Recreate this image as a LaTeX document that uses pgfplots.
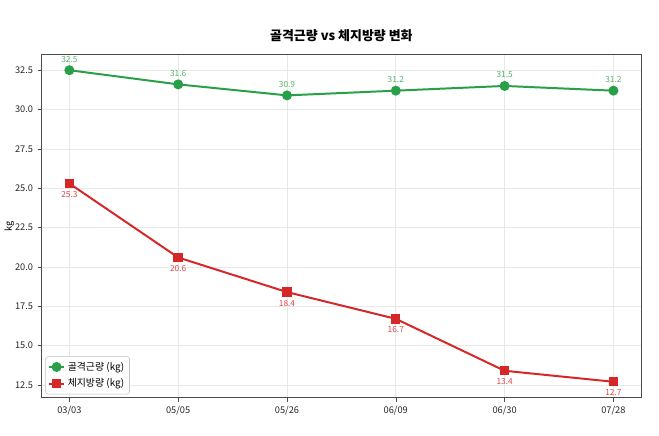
\documentclass[border=0pt]{standalone}
\usepackage{pgfplots}
\pgfplotsset{compat=1.18}
\usepackage{fontspec}
\setmainfont{Noto Sans CJK KR}
\definecolor{cg}{RGB}{40,160,72}
\definecolor{cr}{RGB}{214,39,40}
\definecolor{gridc}{RGB}{232,232,232}
\begin{document}
\begin{tikzpicture}
\begin{axis}[name=ax, scale only axis, width=454pt, height=260pt,
  xmin=-0.255, xmax=5.255, ymin=11.68, ymax=33.5,
  xtick={0,1,2,3,4,5}, xticklabels={03/03,05/05,05/26,06/09,06/30,07/28},
  ytick={12.5,15,17.5,20,22.5,25,27.5,30,32.5},
  yticklabel style={/pgf/number format/.cd,fixed,fixed zerofill,precision=1},
  /pgf/number format/assume math mode=true,
  tick label style={font=\fontsize{7}{8}\selectfont, text=black!85},
  grid=major, grid style={gridc, line width=0.5pt},
  axis line style={black!70, line width=0.8pt},
  tick style={black!70}, tick align=outside, major tick length=3pt,
  xtick pos=bottom, ytick pos=left,
  title={\bfseries 골격근량 vs 체지방량 변화},
  title style={font=\fontsize{9.8}{11}\selectfont, at={(axis description cs:0.5,1)}, anchor=center, yshift=8pt},
  ylabel={kg}, ylabel style={font=\fontsize{7}{8}\selectfont, at={(axis description cs:-0.054,0.5)}, anchor=center},
  legend style={at={(axis description cs:0.006,0.01)}, anchor=south west, font=\fontsize{7.5}{9}\selectfont, draw=black!25, rounded corners=2pt, inner sep=2pt, row sep=1pt},
  legend image code/.code={\draw[mark repeat=2,mark phase=2] plot coordinates {(0cm,0cm)(0.2cm,0cm)(0.4cm,0cm)};},
  legend cell align=left,
  nodes near coords, nodes near coords style={font=\fontsize{6.3}{7}\selectfont},
  clip=false]
\addplot[cg, line width=1.5pt, mark=*, mark size=3pt, nodes near coords style={text=cg!80, anchor=south, yshift=2pt}] coordinates {(0,32.5)(1,31.6)(2,30.9)(3,31.2)(4,31.5)(5,31.2)};
\addlegendentry{골격근량 (kg)}
\addplot[cr, line width=1.5pt, mark=square*, mark size=2.8pt, nodes near coords style={text=cr!85, anchor=north, yshift=-2pt}] coordinates {(0,25.3)(1,20.6)(2,18.4)(3,16.7)(4,13.4)(5,12.7)};
\addlegendentry{체지방량 (kg)}
\end{axis}
\path ([xshift=-27pt,yshift=-28.5pt]ax.south west) rectangle ([xshift=13.5pt,yshift=41.25pt]ax.north east);
\end{tikzpicture}
\end{document}
